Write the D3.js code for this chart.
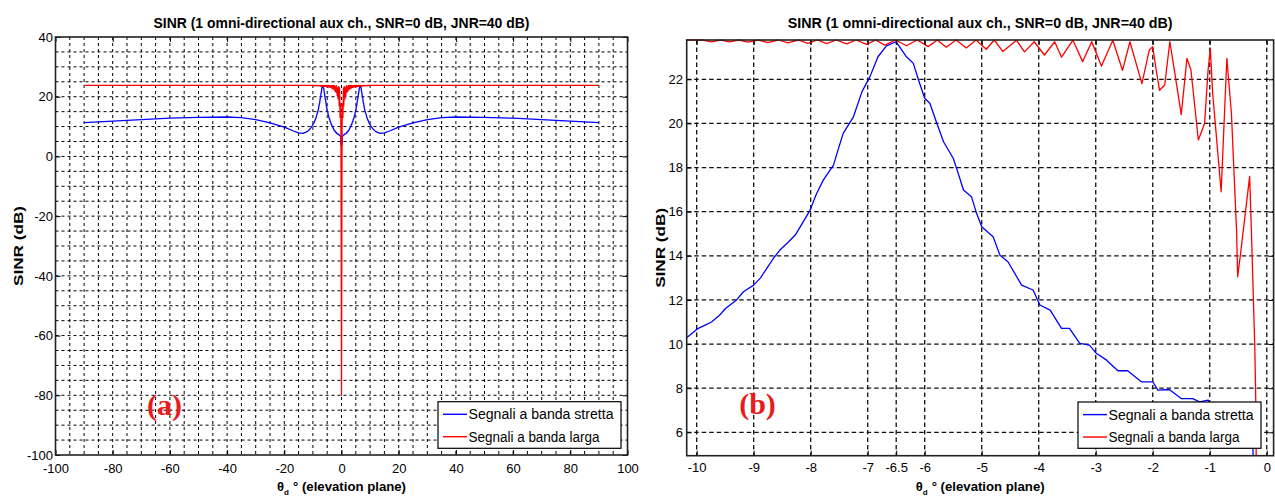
<!DOCTYPE html>
<html><head><meta charset="utf-8">
<script src="https://cdn.jsdelivr.net/npm/d3@7"></script>
<style>
html,body{margin:0;padding:0;background:#fff;}
svg{display:block;font-family:"Liberation Sans",Arial,Helvetica,sans-serif;}
</style></head><body>
<svg id="c" width="1275" height="496"></svg>
<script>
// ---------------- DATA ----------------
const titleText = "SINR (1 omni-directional aux ch., SNR=0 dB, JNR=40 dB)";
const yLabelText = "SINR (dB)";
const xLabelText = "° (elevation plane)";
const legendLabels = ["Segnali a banda stretta", "Segnali a banda larga"];

// left panel ticks
const leftXTicks = [-100, -80, -60, -40, -20, 0, 20, 40, 60, 80, 100];
const leftYTicks = [-100, -80, -60, -40, -20, 0, 20, 40];
const leftGridX = [-95,-90,-85,-80,-75,-70,-65,-60,-55,-50,-45,-40,-35,-30,-25,-20,-15,-10,-5,0,5,10,15,20,25,30,35,40,45,50,55,60,65,70,75,80,85,90,95];
const leftGridY = [-95,-90,-85,-80,-75,-70,-65,-60,-55,-50,-45,-40,-35,-30,-25,-20,-15,-10,-5,0,5,10,15,20,25,30,35];

// right panel ticks
const rightXTicks = [-10, -9, -8, -7, -6.5, -6, -5, -4, -3, -2, -1, 0];
const rightYTicks = [6, 8, 10, 12, 14, 16, 18, 20, 22];

// narrow band (blue), far part, theta < -10
const blueFar = [[-90,11.3],[-80,11.8],[-70,12.3],[-60,12.8],[-50,13.1],[-40,13.2],[-35,13.0],[-30,12.3],[-25,11.2],[-20,9.8],[-17,8.6],[-15,7.9],[-13.5,7.7],[-12,8.3],[-11,9.2]];
// narrow band (blue), near part, -10.17 .. 0
const blueNear = [[-10.17,10.3],[-9.98,10.7],[-9.86,10.85],[-9.74,11.0],[-9.6,11.3],[-9.5,11.6],[-9.3,12.0],[-9.18,12.37],[-9.0,12.67],[-8.88,13.0],[-8.77,13.43],[-8.65,13.9],[-8.54,14.26],[-8.4,14.6],[-8.27,14.94],[-8.14,15.5],[-8.01,16.07],[-7.9,16.8],[-7.78,17.43],[-7.6,18.11],[-7.52,18.8],[-7.43,19.55],[-7.25,20.3],[-7.1,21.44],[-6.96,22.12],[-6.82,23.02],[-6.67,23.51],[-6.5,23.7],[-6.32,23.02],[-6.2,22.72],[-6.1,21.9],[-6.0,21.14],[-5.91,20.91],[-5.8,20.1],[-5.67,19.17],[-5.5,18.42],[-5.42,17.8],[-5.32,16.98],[-5.18,16.68],[-5.1,16.0],[-5.0,15.32],[-4.8,14.86],[-4.68,14.03],[-4.54,13.73],[-4.42,13.2],[-4.3,12.67],[-4.1,12.45],[-3.98,11.77],[-3.8,11.54],[-3.6,10.71],[-3.46,10.71],[-3.28,10.03],[-3.11,9.95],[-2.99,9.58],[-2.81,9.27],[-2.61,8.79],[-2.44,8.79],[-2.2,8.29],[-2.0,8.29],[-1.91,7.91],[-1.71,7.94],[-1.5,7.53],[-1.3,7.53],[-1.18,7.38],[-1.03,7.46],[-0.99,7.31],[-0.8,7.2],[-0.6,7.0],[-0.4,6.8],[-0.26,6.5],[-0.23,4.3],[0,3.5]];

// wide band (red), far part (flat)
const redFar = [[-90,23.78]];
// wide band (red), near part, -10.17 .. 0
const redNear = [[-10.17,23.78],[-9.9,23.78],[-9.74,23.70],[-9.58,23.78],[-9.42,23.69],[-9.26,23.78],[-9.10,23.68],[-8.92,23.78],[-8.75,23.66],[-8.57,23.78],[-8.40,23.65],[-8.22,23.78],[-8.05,23.63],[-7.88,23.78],[-7.72,23.62],[-7.55,23.78],[-7.37,23.60],[-7.2,23.78],[-7.02,23.58],[-6.86,23.78],[-6.70,23.55],[-6.51,23.78],[-6.32,23.52],[-6.13,23.78],[-5.94,23.48],[-5.78,23.78],[-5.62,23.45],[-5.45,23.78],[-5.27,23.42],[-5.1,23.78],[-4.92,23.36],[-4.78,23.78],[-4.63,23.26],[-4.39,23.77],[-4.25,23.24],[-4.08,23.7],[-3.9,23.10],[-3.72,23.7],[-3.6,23.0],[-3.4,23.77],[-3.23,22.8],[-3.07,23.7],[-2.9,22.6],[-2.7,23.77],[-2.53,22.4],[-2.4,23.7],[-2.19,21.8],[-2.06,23.33],[-2.0,23.48],[-1.94,22.42],[-1.88,21.5],[-1.79,21.74],[-1.70,23.7],[-1.62,22.4],[-1.50,20.4],[-1.40,22.95],[-1.33,22.42],[-1.20,19.25],[-1.09,20.0],[-1.03,22.4],[-0.99,23.4],[-0.95,21.4],[-0.80,16.9],[-0.70,22.95],[-0.62,20.46],[-0.53,15.17],[-0.51,13.05],[-0.45,14.3],[-0.30,17.6],[-0.27,15.2],[-0.24,12.5],[-0.21,9.9],[-0.19,7.0],[0,-80]];

// ---------------- BUILD ----------------
const mirror = arr => arr.slice().reverse().map(([t, v]) => [-t, v]);
const blueFull = blueFar.concat(blueNear, mirror(blueNear).slice(1), mirror(blueFar));
const redFull = redFar.concat(redNear, mirror(redNear).slice(1), mirror(redFar));

const svg = d3.select("#c");
const BLUE = "#0000ff", RED = "#ff0000";

function panel(cfg) {
  const g = svg.append("g");
  const x = d3.scaleLinear(cfg.xDom, cfg.xRange);
  const y = d3.scaleLinear(cfg.yDom, cfg.yRange);
  const [x0, x1] = cfg.xRange, [y1, y0] = cfg.yRange;
  const id = cfg.id;

  g.append("rect").attr("x", x0).attr("y", y0).attr("width", x1 - x0).attr("height", y1 - y0).attr("fill", "#fff");

  // grid
  const grid = g.append("g").attr("stroke", cfg.gridColor).attr("stroke-width", cfg.gridWidth).attr("fill", "none");
  grid.selectAll("line.gx").data(cfg.gridX).join("line")
    .attr("x1", d => x(d)).attr("x2", d => x(d)).attr("y1", y0).attr("y2", y1)
    .attr("stroke-dasharray", cfg.dashV);
  grid.selectAll("line.gy").data(cfg.gridY).join("line").attr("class", "gy")
    .attr("y1", d => y(d)).attr("y2", d => y(d)).attr("x1", x0).attr("x2", x1)
    .attr("stroke-dasharray", cfg.dashH);

  // clip
  svg.append("clipPath").attr("id", "clip" + id).append("rect")
    .attr("x", x0).attr("y", y0 - 1).attr("width", x1 - x0).attr("height", y1 - y0 + 1);
  const line = d3.line().x(d => x(d[0])).y(d => y(d[1]));
  const lines = g.append("g").attr("clip-path", `url(#clip${id})`).attr("fill", "none").attr("stroke-width", 1.3).attr("stroke-linejoin", "round");
  lines.append("path").datum(cfg.blue).attr("d", line).attr("stroke", BLUE);
  lines.append("path").datum(cfg.red).attr("d", line).attr("stroke", RED);

  // axes (ticks inward)
  const fmt = d => String(d);
  const ax = g.append("g").attr("transform", `translate(0,${y1})`)
    .call(d3.axisBottom(x).tickValues(cfg.xTicks).tickFormat(fmt).tickSize(-5).tickPadding(cfg.xPad));
  const axT = g.append("g").attr("transform", `translate(0,${y0})`)
    .call(d3.axisTop(x).tickValues(cfg.xTicks).tickFormat("").tickSize(-5));
  const ay = g.append("g").attr("transform", `translate(${x0},0)`)
    .call(d3.axisLeft(y).tickValues(cfg.yTicks).tickFormat(fmt).tickSize(-5).tickPadding(cfg.yPad));
  const ayR = g.append("g").attr("transform", `translate(${x1},0)`)
    .call(d3.axisRight(y).tickValues(cfg.yTicks).tickFormat("").tickSize(-5));
  [ax, axT, ay, ayR].forEach(a => {
    a.select(".domain").remove();
    a.selectAll(".tick line").attr("stroke", "#000").attr("stroke-width", 1);
    a.selectAll("text").attr("font-size", 13).attr("fill", "#000")
      .attr("font-family", '"Liberation Sans",Arial,sans-serif');
  });

  // border
  g.append("rect").attr("x", x0).attr("y", y0).attr("width", x1 - x0).attr("height", y1 - y0)
    .attr("fill", "none").attr("stroke", "#222").attr("stroke-width", 1.6);

  // legend
  const L = cfg.legend;
  const lg = g.append("g");
  lg.append("rect").attr("x", L.x).attr("y", L.y).attr("width", L.w).attr("height", L.h)
    .attr("fill", "#fff").attr("stroke", "#000").attr("stroke-width", 1.2);
  [[BLUE, 0], [RED, 1]].forEach(([c, i]) => {
    const cy = L.y + 12.6 + i * 22.4;
    lg.append("line").attr("x1", L.x + 5).attr("x2", L.x + 29).attr("y1", cy).attr("y2", cy)
      .attr("stroke", c).attr("stroke-width", 1.4);
    lg.append("text").attr("x", L.x + 30.5).attr("y", cy + 5).attr("font-size", 14)
      .attr("textLength", i === 0 ? 145 : 131).attr("lengthAdjust", "spacingAndGlyphs")
      .text(legendLabels[i]);
  });

  // title
  const cx = (x0 + x1) / 2;
  g.append("text").attr("x", cx).attr("y", 28).attr("text-anchor", "middle")
    .attr("font-size", 15).attr("font-weight", "bold")
    .attr("textLength", cfg.titleLen).attr("lengthAdjust", "spacingAndGlyphs").text(titleText);

  // y label
  g.append("text").attr("transform", `translate(${cfg.yLabX},${(y0 + y1) / 2}) rotate(-90)`)
    .attr("text-anchor", "middle").attr("font-size", 13).attr("font-weight", "bold")
    .attr("textLength", 80).attr("lengthAdjust", "spacingAndGlyphs").text(yLabelText);

  // x label
  const lx = cx - 64.5;
  g.append("text").attr("x", lx).attr("y", 491).attr("font-size", 13).attr("font-weight", "bold").text("θ");
  g.append("text").attr("x", lx + 7).attr("y", 495).attr("font-size", 8).attr("font-weight", "bold").text("d");
  g.append("text").attr("x", lx + 16).attr("y", 491).attr("font-size", 13).attr("font-weight", "bold")
    .attr("textLength", 113).attr("lengthAdjust", "spacingAndGlyphs").text(xLabelText);

  // panel letter
  g.append("text").attr("x", cfg.tag.x).attr("y", cfg.tag.y).attr("text-anchor", "middle")
    .attr("font-family", '"Liberation Serif","Times New Roman",serif').attr("font-weight", "bold")
    .attr("font-size", 30).attr("fill", "#e81c1c").text(cfg.tag.t);
}

panel({
  id: "a", xDom: [-100, 100], xRange: [55.5, 627.5], yDom: [-100, 40], yRange: [455, 37],
  gridX: leftGridX, gridY: leftGridY, dashV: "3,3", dashH: "3,3", gridColor: "#000", gridWidth: 1,
  xTicks: leftXTicks, yTicks: leftYTicks, xPad: 8.8, yPad: 2.5,
  blue: blueFull, red: redFull,
  legend: { x: 438, y: 401.7, w: 183, h: 46.6 },
  titleLen: 376, yLabX: 22.5, tag: { x: 164.5, y: 415, t: "(a)" }
});

panel({
  id: "b", xDom: [-10.175, 0.12], xRange: [686.7, 1273.6], yDom: [4.94, 23.78], yRange: [455.7, 40],
  gridX: rightXTicks, gridY: rightYTicks, dashV: "4.5,3", dashH: "4.5,3", gridColor: "#111", gridWidth: 1.3,
  xTicks: rightXTicks, yTicks: rightYTicks, xPad: 6.6, yPad: 3.7,
  blue: blueNear, red: redNear,
  legend: { x: 1078, y: 402, w: 183, h: 46.3 },
  titleLen: 385, yLabX: 664.5, tag: { x: 757.5, y: 414, t: "(b)" }
});
</script></body></html>
